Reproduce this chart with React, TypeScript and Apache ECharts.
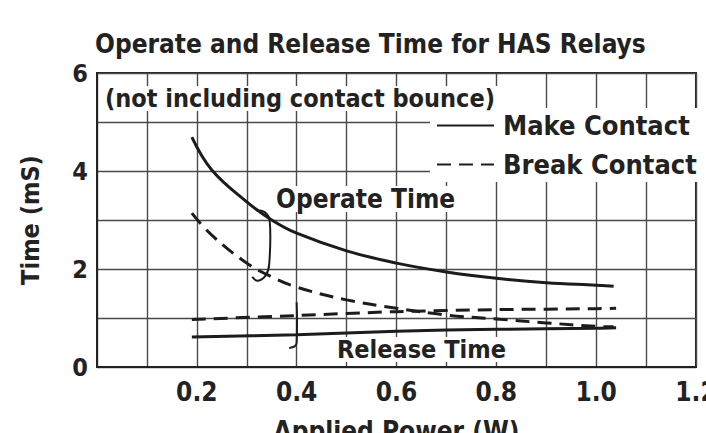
import React, { useEffect, useRef } from "react";
import * as echarts from "echarts";

const FONT = "'Liberation Sans Narrow', 'DejaVu Sans Condensed', 'Roboto Condensed', sans-serif";

const operateX = [0.19, 0.23, 0.3, 0.35, 0.4, 0.5, 0.6, 0.7, 0.8, 0.9, 1.0, 1.035];
const operateMake = [4.69, 4.02, 3.37, 3.0, 2.73, 2.37, 2.12, 1.94, 1.81, 1.72, 1.67, 1.65];
const operateBreak = [3.14, 2.69, 2.12, 1.84, 1.63, 1.37, 1.2, 1.06, 0.98, 0.9, 0.83, 0.82];
const releaseX = [0.19, 0.4, 0.6, 0.8, 1.0, 1.04];
const releaseMake = [0.61, 0.66, 0.73, 0.77, 0.79, 0.8];
const releaseBreak = [0.97, 1.05, 1.13, 1.17, 1.19, 1.2];
const xTickLabels = ["0.2", "0.4", "0.6", "0.8", "1.0", "1.2"];
const yTickLabels = ["0", "2", "4", "6"];

// annotation braces (data coordinates)
const operateBrace = [[0.318, 3.2], [0.336, 3.16], [0.346, 2.98], [0.345, 2.1], [0.338, 1.87], [0.322, 1.76], [0.311, 1.84]];
const releaseBrace = [[0.4, 1.32], [0.4, 0.5], [0.396, 0.42], [0.385, 0.39]];

const pairs = (xs: number[], ys: number[]) => xs.map((x, i) => [x, ys[i]]);

export default function App() {
  const ref = useRef<HTMLDivElement>(null);
  useEffect(() => {
    const chart = echarts.init(ref.current!, null, { renderer: "svg" });
    const lineColor = "#1c1c1c";
    const solid = { color: lineColor, width: 3, type: "solid" as const };
    const dashed = { color: lineColor, width: 3, type: [14, 8] as any };
    const hiddenSymbol = { color: lineColor, opacity: 0 };
    chart.setOption({
      animation: false,
      backgroundColor: "#ffffff",
      title: {
        text: "Operate and Release Time for HAS Relays",
        left: 90,
        top: 26,
        textStyle: { fontFamily: FONT, fontSize: 26, fontWeight: "bold", color: "#222" },
      },
      legend: {
        orient: "vertical",
        left: 430,
        top: 108,
        itemWidth: 57,
        itemHeight: 20,
        itemGap: 12,
        padding: [4, 8, 4, 6],
        backgroundColor: "#ffffff",
        itemStyle: { opacity: 0 },
        data: ["Make Contact", "Break Contact"],
        textStyle: { fontFamily: FONT, fontSize: 27, fontWeight: "bold", color: "#222", padding: [0, 0, 0, 4] },
      },
      grid: {
        left: 97,
        right: 10,
        top: 73,
        bottom: 66,
        outerBoundsMode: "none",
        containLabel: false,
        show: true,
        borderColor: "#222",
        borderWidth: 2,
        backgroundColor: "#fff",
      },
      xAxis: {
        type: "value",
        min: 0,
        max: 1.2,
        interval: 0.1,
        name: "Applied Power (W)",
        nameLocation: "middle",
        nameGap: 51,
        nameTextStyle: { fontFamily: FONT, fontSize: 26, fontWeight: "bold", color: "#222" },
        axisLine: { show: true, lineStyle: { color: "#222", width: 2 } },
        axisTick: { show: false },
        axisLabel: {
          margin: 12,
          fontFamily: FONT,
          fontSize: 26,
          fontWeight: "bold",
          color: "#222",
          formatter: (v: number) => {
            const s = v.toFixed(1);
            return xTickLabels.includes(s) ? s : "";
          },
        },
        splitLine: { show: true, lineStyle: { color: "#4a4a4a", width: 1.4 } },
      },
      yAxis: {
        type: "value",
        min: 0,
        max: 6,
        interval: 1,
        name: "Time (mS)",
        nameLocation: "middle",
        nameGap: 54,
        nameRotate: 90,
        nameTextStyle: { fontFamily: FONT, fontSize: 25, fontWeight: "bold", color: "#222" },
        axisLine: { show: true, lineStyle: { color: "#222", width: 2 } },
        axisTick: { show: false },
        axisLabel: {
          margin: 9,
          fontFamily: FONT,
          fontSize: 25,
          fontWeight: "bold",
          color: "#222",
          formatter: (v: number) => {
            const s = String(Math.round(v));
            return yTickLabels.includes(s) ? s : "";
          },
        },
        splitLine: { show: true, lineStyle: { color: "#4a4a4a", width: 1.4 } },
      },
      series: [
        { name: "Make Contact", type: "line", data: pairs(operateX, operateMake), smooth: 0.4, symbol: "none", lineStyle: solid, itemStyle: hiddenSymbol },
        { name: "Break Contact", type: "line", data: pairs(operateX, operateBreak), smooth: 0.4, symbol: "none", lineStyle: dashed, itemStyle: hiddenSymbol },
        { name: "Make Contact", type: "line", data: pairs(releaseX, releaseMake), smooth: 0.3, symbol: "none", lineStyle: solid, itemStyle: hiddenSymbol },
        { name: "Break Contact", type: "line", data: pairs(releaseX, releaseBreak), smooth: 0.3, symbol: "none", lineStyle: dashed, itemStyle: hiddenSymbol },
      ],
    });

    const toPx = (p: number[]) => chart.convertToPixel({ gridIndex: 0 }, p) as number[];
    chart.setOption({
      graphic: [
        {
          type: "polyline",
          shape: { points: operateBrace.map(toPx), smooth: 0.4 },
          style: { stroke: lineColor, lineWidth: 2, fill: null },
          z: 10,
        },
        {
          type: "polyline",
          shape: { points: releaseBrace.map(toPx), smooth: 0.4 },
          style: { stroke: lineColor, lineWidth: 2, fill: null },
          z: 10,
        },
        {
          type: "text",
          x: 102,
          y: 86,
          z: 10,
          style: {
            text: "(not including contact bounce)",
            fontFamily: FONT,
            fontSize: 25,
            fontWeight: "bold",
            fill: "#222",
            backgroundColor: "#fff",
            padding: [0, 3, 0, 3],
          },
        },
        {
          type: "text",
          x: 276,
          y: 186,
          z: 10,
          style: { text: "Operate Time", fontFamily: FONT, fontSize: 26, fontWeight: "bold", fill: "#222", backgroundColor: "#fff" },
        },
        {
          type: "text",
          x: 337,
          y: 337,
          z: 10,
          style: { text: "Release Time", fontFamily: FONT, fontSize: 25, fontWeight: "bold", fill: "#222", backgroundColor: "#fff" },
        },
      ],
    });
    return () => chart.dispose();
  }, []);
  return <div ref={ref} style={{ width: 706, height: 433, position: "absolute", left: 0, top: 0 }} />;
}
